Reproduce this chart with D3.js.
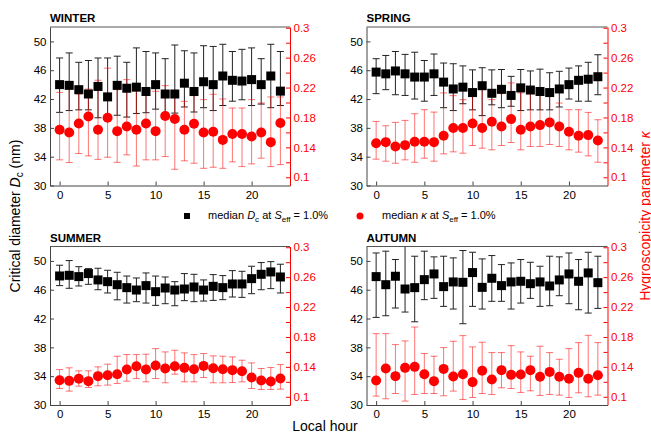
<!DOCTYPE html>
<html><head><meta charset="utf-8">
<script src="https://cdn.jsdelivr.net/npm/d3@7"></script>
<style>
body{margin:0;background:#fff;}
text{font-family:"Liberation Sans",Arial,sans-serif;}
</style></head>
<body><svg id="c" width="651" height="433"></svg>
<script>
const hours = [0,1,2,3,4,5,6,7,8,9,10,11,12,13,14,15,16,17,18,19,20,21,22,23];
const seasons = ["WINTER","SPRING","SUMMER","AUTUMN"];
const dcTicks = [30,34,38,42,46,50];
const kappaTicks = [0.1,0.14,0.18,0.22,0.26,0.3];
const kappaMinorTicks = [0.1,0.12,0.14,0.16,0.18,0.2,0.22,0.24,0.26,0.28,0.3];
const hourTicks = [0,5,10,15,20];

// WINTER
const winterDc    = [44.0,43.9,43.3,42.7,43.75,42.3,43.9,43.5,43.65,43.05,44.0,42.7,42.7,44.2,43.05,44.4,44.0,45.2,44.6,44.5,44.7,44.0,45.2,43.1];
const winterDcUp  = [47.7,48.4,47.1,47.35,47.7,47.7,47.95,47.1,49.1,48.6,48.4,47.6,49.5,48.7,48.4,49.4,49.3,49.6,48.6,48.9,49.1,47.6,49.6,48.6];
const winterDcLo  = [40.15,40.4,40.5,40.5,39.4,39.5,39.75,39.5,40.0,40.1,40.6,40.05,40.05,40.9,40.2,40.8,40.4,41.1,41.7,41.9,41.1,41.3,40.8,41.1];
const winterK     = [0.1635,0.160,0.172,0.1814,0.1635,0.1796,0.1617,0.168,0.1635,0.172,0.1617,0.182,0.178,0.1635,0.1716,0.160,0.161,0.150,0.158,0.158,0.1546,0.160,0.147,0.1725];
const winterKUp   = [0.2136,0.2226,0.2114,0.218,0.2298,0.2459,0.2172,0.2306,0.2159,0.2195,0.215,0.2226,0.215,0.2016,0.2092,0.2038,0.211,0.2047,0.1926,0.1926,0.2038,0.1993,0.2074,0.2074];
const winterKLo   = [0.1233,0.1197,0.1318,0.1286,0.124,0.1268,0.120,0.130,0.115,0.1233,0.1233,0.1277,0.1107,0.122,0.1188,0.112,0.1134,0.112,0.1206,0.1143,0.1179,0.1255,0.1143,0.117];

// SPRING
const springDc    = [45.74,45.5,45.9,45.5,45.05,45.05,45.5,44.35,43.4,43.65,42.9,43.85,42.8,43.35,42.5,43.55,43.25,43.05,42.9,43.4,44.0,44.6,44.75,45.1];
const springDcUp  = [47.6,48.05,48.6,48.2,48.5,47.35,48.25,47.0,46.9,46.6,46.05,46.35,46.05,46.1,45.15,46.1,45.9,46.15,45.65,45.85,46.3,46.6,47.1,48.15];
const springDcLo  = [42.75,43.3,42.6,42.5,42.0,41.7,42.5,40.8,40.4,41.35,40.5,39.7,41.2,40.8,41.0,40.4,40.5,40.5,40.5,40.9,42.0,41.7,41.7,42.6];
const springK     = [0.1456,0.147,0.1412,0.143,0.1474,0.1474,0.147,0.1555,0.1658,0.1658,0.172,0.1658,0.1743,0.168,0.1778,0.1635,0.168,0.1698,0.1734,0.168,0.1608,0.1555,0.1564,0.1492];
const springKUp   = [0.1747,0.1689,0.1734,0.1761,0.185,0.1904,0.1872,0.2128,0.2092,0.2038,0.2114,0.218,0.2038,0.2119,0.2262,0.2128,0.215,0.2105,0.215,0.1993,0.1904,0.1904,0.1868,0.177];
const springKLo   = [0.1242,0.1215,0.1188,0.1233,0.1201,0.1255,0.1215,0.1313,0.134,0.1322,0.1425,0.1389,0.1367,0.1425,0.1465,0.1367,0.1412,0.1412,0.1438,0.1412,0.1367,0.1336,0.1286,0.1201];

// SUMMER
const summerDc    = [47.91,48.0,47.82,48.24,47.36,47.12,46.7,46.29,45.96,46.57,45.73,46.24,45.96,46.1,46.38,45.96,46.47,46.29,46.8,46.8,47.54,48.14,48.47,47.77];
const summerDcUp  = [49.4,50.05,49.2,48.93,48.98,48.7,48.42,47.9,47.63,48.33,47.9,47.77,47.12,48.24,48.14,47.36,48.1,47.96,48.65,48.56,49.26,49.77,49.9,49.54];
const summerDcLo  = [46.57,46.2,46.52,46.75,46.0,45.55,44.6,44.15,44.34,44.15,43.83,44.06,43.78,44.48,44.34,44.43,44.52,44.62,44.99,44.94,45.45,46.0,46.15,45.55];
const summerK     = [0.1222,0.1213,0.124,0.1209,0.1276,0.1289,0.1302,0.1364,0.1409,0.1364,0.1418,0.1378,0.1409,0.1387,0.1369,0.1413,0.1382,0.1369,0.1356,0.1342,0.1258,0.1218,0.1204,0.1244];
const summerKUp   = [0.1364,0.1387,0.1347,0.1347,0.14,0.1436,0.1542,0.1564,0.1564,0.1569,0.1644,0.16,0.1622,0.1587,0.1564,0.1578,0.1547,0.1542,0.1533,0.1489,0.1453,0.1378,0.1391,0.1431];
const summerKLo   = [0.1111,0.1076,0.1142,0.1124,0.1147,0.1156,0.1178,0.1209,0.1244,0.12,0.1244,0.1187,0.1302,0.12,0.12,0.1258,0.1187,0.1187,0.1191,0.12,0.1111,0.1098,0.1098,0.1102];

// AUTUMN
const autumnDc    = [47.82,46.7,47.87,46.1,46.29,47.4,48.19,46.43,47.08,47.03,48.38,46.33,47.59,46.57,47.08,47.17,46.84,47.08,46.52,47.36,48.19,47.17,48.33,46.98];
const autumnDcUp  = [51.1,51.35,50.19,52.6,50.65,51.35,50.56,50.65,50.42,51.44,51.2,50.28,50.74,49.49,49.72,50.19,49.81,49.26,50.65,50.56,51.1,50.19,51.2,50.65];
const autumnDcLo  = [42.16,42.39,43.46,42.9,41.55,44.62,44.8,43.69,43.32,41.28,43.69,43.32,44.39,44.39,43.32,44.15,44.8,43.69,43.78,45.17,44.06,43.22,42.76,43.41];
const autumnK     = [0.1218,0.1378,0.1276,0.1387,0.14,0.1302,0.1209,0.1373,0.1271,0.1302,0.1196,0.1347,0.1231,0.1356,0.1293,0.1298,0.1356,0.1267,0.1333,0.1267,0.124,0.132,0.124,0.1289];
const autumnKUp   = [0.1844,0.1844,0.1698,0.1747,0.1933,0.1578,0.1542,0.1658,0.1742,0.1818,0.1667,0.1729,0.1591,0.1591,0.1684,0.16,0.1542,0.1676,0.1591,0.1502,0.1644,0.1724,0.1822,0.1724];
const autumnKLo   = [0.1009,0.0973,0.1044,0.0942,0.1031,0.1044,0.1044,0.1013,0.1076,0.0964,0.0991,0.1044,0.1031,0.112,0.1111,0.1058,0.108,0.1018,0.1031,0.1022,0.0991,0.1053,0.1,0.1022];

const seasonData = {
  WINTER:[winterDc,winterDcUp,winterDcLo,winterK,winterKUp,winterKLo],
  SPRING:[springDc,springDcUp,springDcLo,springK,springKUp,springKLo],
  SUMMER:[summerDc,summerDcUp,summerDcLo,summerK,summerKUp,summerKLo],
  AUTUMN:[autumnDc,autumnDcUp,autumnDcLo,autumnK,autumnKUp,autumnKLo]
};

const svg = d3.select("#c");
const boxes = {
  WINTER:{x0:50,x1:290,y0:27,y1:185.5},
  SPRING:{x0:366.5,x1:607.5,y0:27,y1:185.5},
  SUMMER:{x0:50,x1:290,y0:246.5,y1:405},
  AUTUMN:{x0:366.5,x1:607.5,y0:246.5,y1:405}
};
const RED = "#ff0000";
const FONT = "Liberation Sans, Arial, sans-serif";

seasons.forEach((s,si)=>{
  const b = boxes[s];
  const [dc,dcUp,dcLo,k,kUp,kLo] = seasonData[s];
  const x = d3.scaleLinear().domain([-1,24]).range([b.x0,b.x1]);
  const yL = d3.scaleLinear().domain([30,52]).range([b.y1,b.y0]);
  const yR = d3.scaleLinear().domain([0.089,0.301]).range([b.y1,b.y0]);
  const g = svg.append("g");
  const cid = "clip"+si;
  svg.append("clipPath").attr("id",cid).append("rect")
    .attr("x",b.x0).attr("y",b.y0).attr("width",b.x1-b.x0).attr("height",b.y1-b.y0);
  const pl = g.append("g").attr("clip-path",`url(#${cid})`);

  // black error bars
  const ebB = pl.append("g").attr("stroke","#222").attr("stroke-width",1).attr("fill","none");
  hours.forEach((h,i)=>{
    const cx = x(h);
    ebB.append("line").attr("x1",cx).attr("x2",cx).attr("y1",yL(dcUp[i])).attr("y2",yL(dcLo[i]));
    ebB.append("line").attr("x1",cx-3.5).attr("x2",cx+3.5).attr("y1",yL(dcUp[i])).attr("y2",yL(dcUp[i]));
    ebB.append("line").attr("x1",cx-3.5).attr("x2",cx+3.5).attr("y1",yL(dcLo[i])).attr("y2",yL(dcLo[i]));
  });
  // red error bars
  const ebR = pl.append("g").attr("stroke",RED).attr("stroke-opacity",0.55).attr("stroke-width",1).attr("fill","none");
  hours.forEach((h,i)=>{
    const cx = x(h);
    ebR.append("line").attr("x1",cx).attr("x2",cx).attr("y1",yR(kUp[i])).attr("y2",yR(kLo[i]));
    ebR.append("line").attr("x1",cx-3.5).attr("x2",cx+3.5).attr("y1",yR(kUp[i])).attr("y2",yR(kUp[i]));
    ebR.append("line").attr("x1",cx-3.5).attr("x2",cx+3.5).attr("y1",yR(kLo[i])).attr("y2",yR(kLo[i]));
  });
  // markers
  pl.append("g").selectAll("rect").data(hours).join("rect")
    .attr("x",(h)=>x(h)-4.5).attr("y",(h,i)=>yL(dc[i])-4.5)
    .attr("width",9).attr("height",9).attr("fill","#000");
  pl.append("g").selectAll("circle").data(hours).join("circle")
    .attr("cx",(h)=>x(h)).attr("cy",(h,i)=>yR(k[i])).attr("r",5).attr("fill",RED);

  // frame top
  g.append("line").attr("x1",b.x0).attr("x2",b.x1).attr("y1",b.y0).attr("y2",b.y0).attr("stroke","#555");

  // left axis
  const aL = g.append("g").attr("transform",`translate(${b.x0},0)`)
    .call(d3.axisLeft(yL).tickValues(dcTicks).tickSizeInner(-4).tickSizeOuter(0).tickPadding(3.5).tickFormat(d3.format("d")));
  aL.select(".domain").attr("stroke","#444");
  aL.selectAll(".tick line").attr("stroke","#444");
  aL.selectAll("text").attr("font-size",11.5).attr("fill","#000").attr("font-family",FONT);

  // bottom axis
  const aB = g.append("g").attr("transform",`translate(0,${b.y1})`)
    .call(d3.axisBottom(x).tickValues(hourTicks).tickSizeInner(-4).tickSizeOuter(0).tickPadding(5).tickFormat(d3.format("d")));
  aB.select(".domain").attr("stroke","#444");
  aB.selectAll(".tick line").attr("stroke","#444");
  aB.selectAll("text").attr("font-size",11.5).attr("fill","#000").attr("font-family",FONT);

  // right axis (red)
  const aR = g.append("g").attr("transform",`translate(${b.x1},0)`)
    .call(d3.axisRight(yR).tickValues(kappaMinorTicks).tickSizeInner(-4).tickSizeOuter(0).tickPadding(3.5)
      .tickFormat(v=> kappaTicks.some(t=>Math.abs(t-v)<1e-9) ? d3.format("~g")(+v.toFixed(2)) : ""));
  aR.select(".domain").attr("stroke",RED);
  aR.selectAll(".tick line").attr("stroke",RED);
  aR.selectAll("text").attr("font-size",11.5).attr("fill",RED).attr("font-family",FONT);

  // title
  g.append("text").attr("x",b.x0).attr("y",b.y0-5).attr("font-size",11.5).attr("font-weight","bold").text(s);
});

// axis labels
const lab = svg.append("text").attr("transform","translate(20,216) rotate(-90)").attr("text-anchor","middle")
  .attr("font-size",14).attr("fill","#000");
lab.append("tspan").text("Critical diameter ");
lab.append("tspan").attr("font-style","italic").text("D");
lab.append("tspan").attr("font-size",10).attr("dy",3).text("c");
lab.append("tspan").attr("dy",-3).text(" (nm)");

const labR = svg.append("text").attr("transform","translate(649.5,216) rotate(-90)").attr("text-anchor","middle")
  .attr("font-size",14).attr("fill",RED);
labR.append("tspan").text("Hygroscopicity parameter ");
labR.append("tspan").attr("font-style","italic").text("κ");

svg.append("text").attr("x",325).attr("y",431).attr("text-anchor","middle").attr("font-size",14).text("Local hour");

// legend
svg.append("rect").attr("x",184).attr("y",213).attr("width",6).attr("height",6).attr("fill","#000");
const l1 = svg.append("text").attr("x",208).attr("y",219).attr("font-size",11);
l1.append("tspan").text("median ");
l1.append("tspan").attr("font-style","italic").text("D");
l1.append("tspan").attr("font-size",8).attr("dy",3).text("c");
l1.append("tspan").attr("dy",-3).text(" at ");
l1.append("tspan").attr("font-style","italic").text("S");
l1.append("tspan").attr("font-size",8).attr("dy",3).text("eff");
l1.append("tspan").attr("dy",-3).text(" = 1.0%");

svg.append("circle").attr("cx",360).attr("cy",216).attr("r",3.5).attr("fill",RED);
const l2 = svg.append("text").attr("x",382).attr("y",219).attr("font-size",11);
l2.append("tspan").text("median ");
l2.append("tspan").attr("font-style","italic").text("κ");
l2.append("tspan").text(" at ");
l2.append("tspan").attr("font-style","italic").text("S");
l2.append("tspan").attr("font-size",8).attr("dy",3).text("eff");
l2.append("tspan").attr("dy",-3).text(" = 1.0%");
</script></body></html>
